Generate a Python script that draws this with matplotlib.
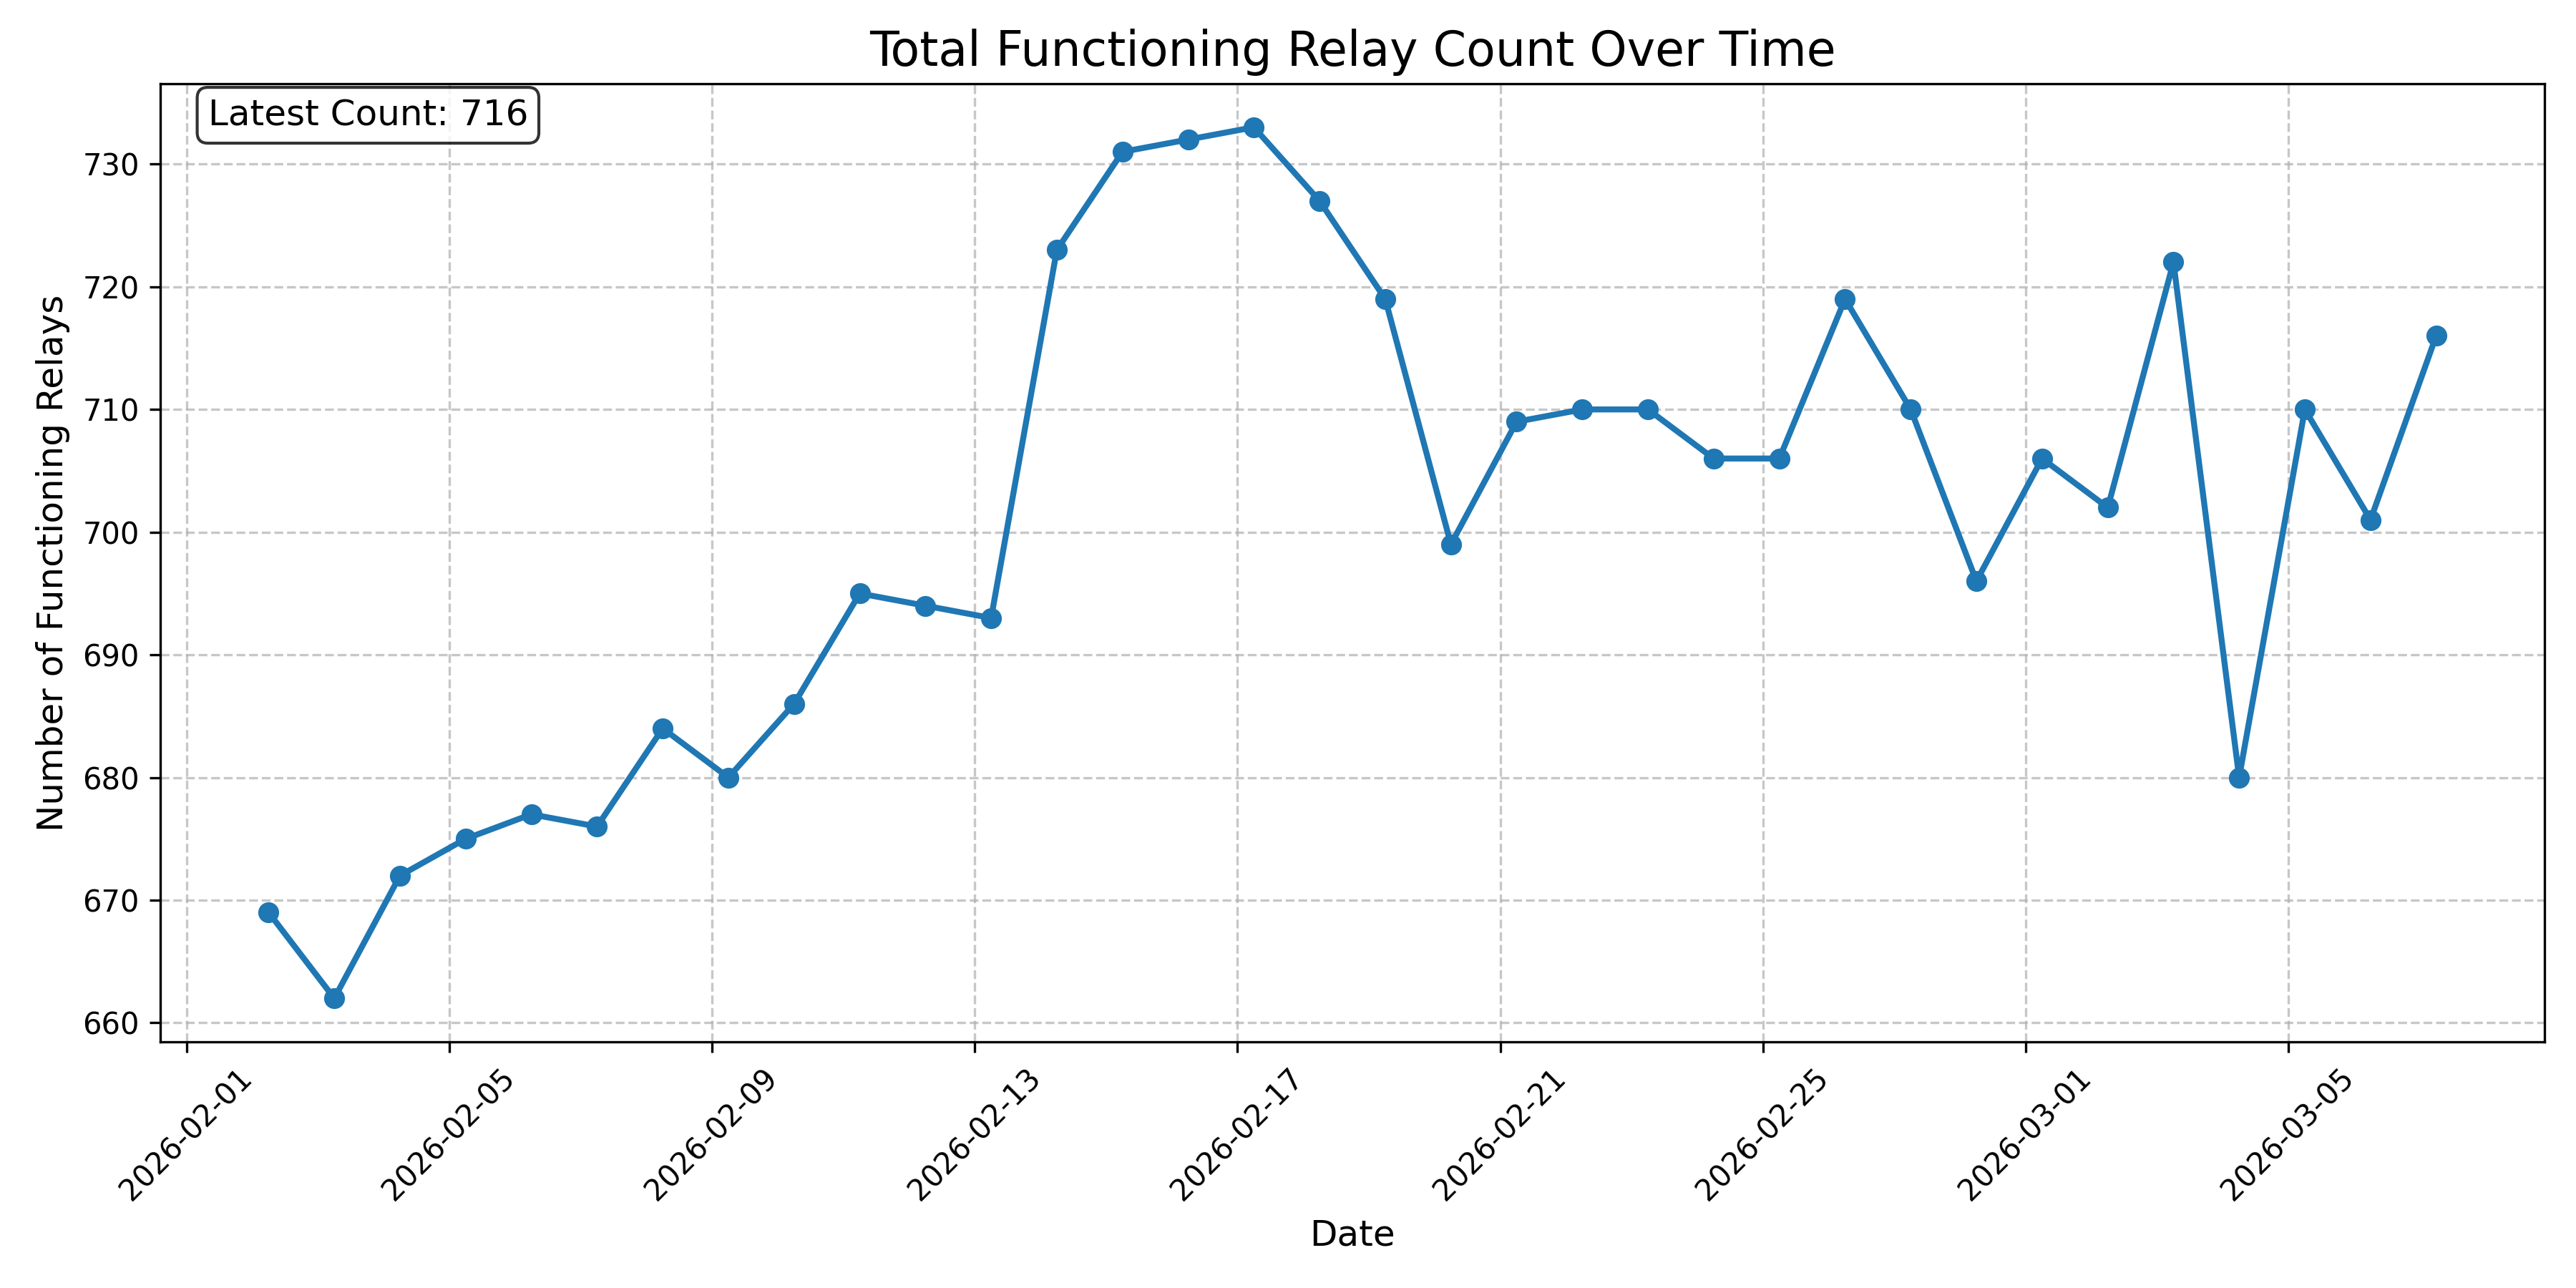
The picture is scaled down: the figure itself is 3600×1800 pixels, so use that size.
import matplotlib
matplotlib.use("Agg")
import matplotlib.pyplot as plt
import matplotlib.dates as mdates
import pandas as pd

dates = pd.date_range("2026-02-02 06:00", "2026-03-07 06:00", freq="D")
counts = [669, 662, 672, 675, 677, 676, 684, 680, 686, 695, 694, 693,
          723, 731, 732, 733, 727, 719, 699, 709, 710, 710, 706, 706,
          719, 710, 696, 706, 702, 722, 680, 710, 701, 716]

fig, ax = plt.subplots(figsize=(12, 6), dpi=300)
ax.plot(dates, counts, marker="o", linewidth=2, markersize=6, color="#1f77b4")
ax.set_title("Total Functioning Relay Count Over Time", fontsize=16)
ax.set_xlabel("Date", fontsize=12)
ax.set_ylabel("Number of Functioning Relays", fontsize=12)
ax.grid(True, linestyle="--", alpha=0.7)
ax.xaxis.set_major_formatter(mdates.DateFormatter("%Y-%m-%d"))
plt.setp(ax.get_xticklabels(), rotation=45)
ax.text(0.02, 0.985, f"Latest Count: {counts[-1]}", transform=ax.transAxes,
        fontsize=12, va="top",
        bbox=dict(boxstyle="round", facecolor="white", alpha=0.8))
fig.subplots_adjust(left=0.0622, right=0.9878, top=0.935, bottom=0.1911)
fig.savefig("out.png", dpi=300)
